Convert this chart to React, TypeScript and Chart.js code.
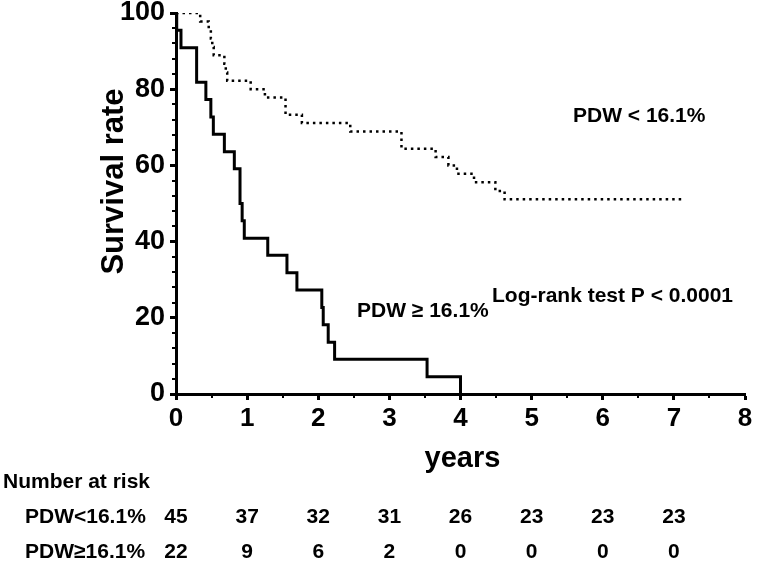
import React, { useEffect, useRef } from "react";
import { Chart, registerables } from "chart.js";

Chart.register(...registerables);

// PDW < 16.1% (dotted) — event times (years) and survival (%)
const timesLow = [0, 0.34, 0.46, 0.49, 0.51, 0.53, 0.68, 0.7, 0.72, 1.05, 1.25, 1.54, 1.77, 2.45, 3.17, 3.65, 3.83, 3.95, 4.19, 4.49, 4.62, 7.15];
const survLow = [100, 97.8, 95.6, 93.3, 91.1, 88.9, 86.7, 84.4, 82.2, 80.0, 77.8, 73.3, 71.1, 68.9, 64.4, 62.2, 60.0, 57.8, 55.6, 53.3, 51.1, 51.1];

// PDW >= 16.1% (solid)
const timesHigh = [0, 0.01, 0.07, 0.29, 0.42, 0.49, 0.525, 0.68, 0.82, 0.9, 0.93, 0.96, 1.29, 1.56, 1.7, 2.05, 2.07, 2.14, 2.23, 3.53, 4.0];
const survHigh = [100, 95.5, 90.9, 81.8, 77.3, 72.7, 68.2, 63.6, 59.1, 50.0, 45.5, 40.9, 36.4, 31.8, 27.3, 22.7, 18.2, 13.6, 9.1, 4.5, 0];

const riskYears = [0, 1, 2, 3, 4, 5, 6, 7];
const riskLow = [45, 37, 32, 31, 26, 23, 23, 23];
const riskHigh = [22, 9, 6, 2, 0, 0, 0, 0];
const riskRowLabels = ["PDW<16.1%", "PDW\u226516.1%"];
const labelLow = "PDW < 16.1%";
const labelHigh = "PDW \u2265 16.1%";
const logRankText = "Log-rank test P < 0.0001";
const yTitle = "Survival rate";
const xTitle = "years";
const riskTitle = "Number at risk";

const FONT = "'Liberation Sans', Arial, Helvetica, sans-serif";

const overlayPlugin = {
  id: "overlay",
  afterDraw(chart: any) {
    const { ctx, chartArea } = chart;
    const x = chart.scales.x;
    const y = chart.scales.y;
    ctx.save();
    // minor ticks
    ctx.strokeStyle = "#000";
    ctx.lineWidth = 2;
    ctx.beginPath();
    for (let v = 0.5; v < 8; v += 1) {
      const px = Math.round(x.getPixelForValue(v));
      ctx.moveTo(px, chartArea.bottom);
      ctx.lineTo(px, chartArea.bottom + 4);
    }
    for (let v = 4; v < 100; v += 4) {
      if (v % 20 === 0) continue;
      const py = Math.round(y.getPixelForValue(v));
      ctx.moveTo(chartArea.left - 4, py);
      ctx.lineTo(chartArea.left, py);
    }
    ctx.stroke();

    ctx.fillStyle = "#000";
    ctx.textBaseline = "alphabetic";
    // y title
    ctx.save();
    ctx.translate(123, 181.5);
    ctx.rotate(-Math.PI / 2);
    ctx.textAlign = "center";
    ctx.font = `bold 31px ${FONT}`;
    ctx.fillText(yTitle, 0, 0);
    ctx.restore();

    // x title
    ctx.textAlign = "center";
    ctx.font = `bold 29px ${FONT}`;
    ctx.fillText(xTitle, (chartArea.left + chartArea.right) / 2 + 2, 467);

    // annotations
    ctx.textAlign = "left";
    ctx.font = `bold 21px ${FONT}`;
    ctx.fillText(labelLow, 573, 122);
    ctx.fillText(logRankText, 492, 302);
    ctx.fillText(labelHigh, 357, 317);

    // number at risk table
    ctx.fillText(riskTitle, 3, 488);
    ctx.fillText(riskRowLabels[0], 25, 523);
    ctx.fillText(riskRowLabels[1], 25, 558);
    ctx.textAlign = "center";
    riskYears.forEach((yr, i) => {
      const px = x.getPixelForValue(yr);
      ctx.fillText(String(riskLow[i]), px, 523);
      ctx.fillText(String(riskHigh[i]), px, 558);
    });
    ctx.restore();
  },
};

export default function App() {
  const ref = useRef<HTMLCanvasElement | null>(null);
  useEffect(() => {
    if (!ref.current) return;
    const tickFont = { family: FONT, weight: "bold" as const };
    const chart = new Chart(ref.current, {
      type: "line",
      data: {
        datasets: [
          {
            label: labelLow,
            data: timesLow.map((t, i) => ({ x: t, y: survLow[i] })),
            stepped: "before",
            borderColor: "#000",
            borderWidth: 2.5,
            borderDash: [2.5, 4],
            borderCapStyle: "butt",
            pointRadius: 0,
            fill: false,
          },
          {
            label: labelHigh,
            data: timesHigh.map((t, i) => ({ x: t, y: survHigh[i] })),
            stepped: "before",
            borderColor: "#000",
            borderWidth: 3,
            pointRadius: 0,
            fill: false,
          },
        ],
      },
      options: {
        responsive: false,
        animation: false,
        devicePixelRatio: 1,
        layout: { padding: { left: 0, top: 13, right: 15, bottom: 0 } },
        plugins: { legend: { display: false }, tooltip: { enabled: false } },
        scales: {
          x: {
            type: "linear",
            min: 0,
            max: 8,
            border: { display: true, color: "#000", width: 3 },
            grid: { drawOnChartArea: false, drawTicks: true, tickLength: 6, tickWidth: 3, tickColor: "#000" },
            ticks: { stepSize: 1, color: "#000", font: { ...tickFont, size: 26 }, padding: 3, maxRotation: 0, autoSkip: false },
            afterFit(scale: any) {
              scale.height = 171;
              scale.paddingLeft = 0;
              scale.paddingRight = 0;
            },
          },
          y: {
            type: "linear",
            min: 0,
            max: 100,
            border: { display: true, color: "#000", width: 3 },
            grid: { drawOnChartArea: false, drawTicks: true, tickLength: 6, tickWidth: 3, tickColor: "#000" },
            ticks: { stepSize: 20, color: "#000", font: { ...tickFont, size: 27 }, padding: 5, autoSkip: false },
            afterFit(scale: any) {
              scale.width = 176;
              scale.paddingTop = 0;
              scale.paddingBottom = 0;
            },
          },
        },
      },
      plugins: [overlayPlugin],
    } as any);
    return () => chart.destroy();
  }, []);
  return (
    <div style={{ position: "fixed", left: 0, top: 0, width: 760, height: 565, background: "#fff" }}>
      <canvas ref={ref} width={760} height={565} />
    </div>
  );
}
